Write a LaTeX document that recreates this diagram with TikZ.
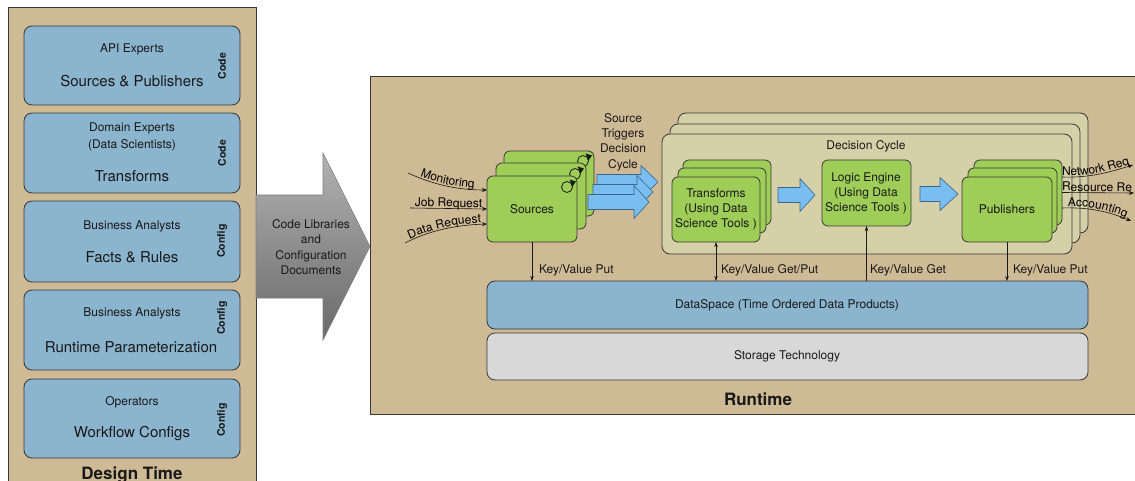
\documentclass[tikz,border=0pt]{standalone}
\usepackage{fontspec}
\setmainfont{TeX Gyre Heros}
\usetikzlibrary{arrows.meta,fit,decorations.text}

\definecolor{paneltan}{RGB}{206,186,148}
\definecolor{panelblue}{RGB}{139,180,206}
\definecolor{leafgreen}{RGB}{158,205,88}
\definecolor{cyclekhaki}{RGB}{214,208,168}
\definecolor{skyarrow}{RGB}{120,190,240}
\definecolor{skyedge}{RGB}{60,100,140}
\definecolor{storagegray}{RGB}{216,216,216}
\definecolor{edgegray}{RGB}{55,55,55}
\definecolor{inkdark}{RGB}{25,25,25}
\definecolor{arrowtop}{RGB}{178,178,178}
\definecolor{arrowbot}{RGB}{105,105,105}

\newcommand\fs[1]{\fontsize{#1}{#1}\selectfont}
\newcommand\blockarrow[4]{%
  \draw[barrow] (#1,#4-7.5) -- (#2,#4-7.5) -- (#2,#4-16.5) -- (#3,#4) -- (#2,#4+16.5) -- (#2,#4+7.5) -- (#1,#4+7.5) -- cycle;}
\newcommand\cycleicon[1]{%
  \draw[cycring] (#1) circle[radius=5.5];
  \fill[inkdark] ([shift={(2.5,-7.5)}]#1) -- ([shift={(9,-5.5)}]#1) -- ([shift={(5.5,-0.5)}]#1) -- cycle;}

\tikzset{
  panel/.style={fill=paneltan, draw=edgegray, line width=0.8pt},
  lbox/.style={draw=edgegray, fill=panelblue, rounded corners=8pt, line width=0.8pt},
  cbox/.style={draw=edgegray, fill=cyclekhaki, rounded corners=8pt, line width=0.8pt},
  gbox/.style={draw=edgegray, fill=leafgreen, rounded corners=6pt, line width=0.8pt},
  barrow/.style={draw=skyedge, fill=skyarrow, line width=0.6pt, line join=miter},
  inl/.style={draw=inkdark, line width=0.6pt, -{Stealth[length=5pt,width=4pt]}},
  kv/.style={draw=inkdark, line width=0.6pt, -{Stealth[length=5pt,width=3.5pt]}},
  kvb/.style={draw=inkdark, line width=0.6pt, {Stealth[length=5pt,width=3.5pt]}-{Stealth[length=5pt,width=3.5pt]}},
  cycring/.style={draw=inkdark, line width=0.8pt},
  small/.style={font=\fs{12}},
  big/.style={font=\fs{15}},
  tag/.style={font=\fs{10.5}\bfseries, rotate=90},
  ptext/.style 2 args={postaction={decorate, decoration={text along path, text align=#1, raise=1.5pt, text={|\fs{12}|#2}}}}
}

\begin{document}
\begin{tikzpicture}[x=1pt,y=-1pt, every node/.style={text=inkdark, inner sep=0pt, outer sep=0pt}]
\useasboundingbox (0,0) rectangle (1135,481);

% ---------------- Design time panel ----------------
\node[panel, fit={(8,7) (256,500)}] (design) {};
\node[lbox, fit={(24,26) (240,105)}] (api) {};
\node[lbox, fit={(24,113) (240,193)}] (dom) {};
\node[lbox, fit={(24,201) (240,282)}] (fact) {};
\node[lbox, fit={(24,290) (240,370)}] (param) {};
\node[lbox, fit={(24,379) (240,458)}] (ops) {};

\node[small] (apiR) at (132,49) {API Experts};
\node[big] (apiT) at (132,81) {Sources \& Publishers};
\node[tag] (apiK) at (222,66) {Code};

\node[small] (domR) at (132,128) {Domain Experts};
\node[small] (domR2) at (132,145) {(Data Scientists)};
\node[big] (domT) at (132,176) {Transforms};
\node[tag] (domK) at (222,153) {Code};

\node[small] (factR) at (132,226) {Business Analysts};
\node[big] (factT) at (132,257) {Facts \& Rules};
\node[tag] (factK) at (222,241) {Config};

\node[small] (paramR) at (132,313) {Business Analysts};
\node[big] (paramT) at (131,347) {Runtime Parameterization};
\node[tag] (paramK) at (222,318) {Config};

\node[small] (opsR) at (132,402) {Operators};
\node[big] (opsT) at (132,434) {Workflow Configs};
\node[tag] (opsK) at (222,420) {Config};

\node[font=\fs{17}\bfseries, anchor=base] (dtime) at (132,479) {Design Time};

% ---------------- big gray arrow ----------------
\shadedraw[top color=arrowtop, bottom color=arrowbot, draw=gray, line width=0.6pt]
  (256,195) -- (323,195) -- (323,153) -- (370,246.5) -- (323,340) -- (323,298) -- (256,298) -- cycle;
\node[font=\fontsize{12}{15.5}\selectfont, align=center] (libs) at (311,247) {Code Libraries\\and\\Configuration\\Documents};

% ---------------- Runtime panel ----------------
\node[panel, fit={(370,76) (1150,414)}] (runtime) {};
\node[font=\fs{17}\bfseries] (rtlabel) at (758,399) {Runtime};

\node[lbox, fit={(487,281) (1088,329)}] (ds) {};
\node[small] (dstext) at (787,305) {DataSpace (Time Ordered Data Products)};
\node[lbox, fill=storagegray, fit={(487,333) (1088,380)}] (st) {};
\node[small] (sttext) at (787,356) {Storage Technology};

% decision cycle stack
\node[cbox, fit={(678,113) (1088,233)}] (dc3) {};
\node[cbox, fit={(670,124) (1080,243)}] (dc2) {};
\node[cbox, fit={(662,134) (1072,254)}] (dc1) {};
\node[small] (dclabel) at (866,146) {Decision Cycle};

% transforms
\node[gbox, fit={(683,160) (771,225)}] (tr3) {};
\node[gbox, fit={(678,168) (766,233)}] (tr2) {};
\node[gbox, fit={(672,177) (760,242)}] (tr1) {};
\node[font=\fontsize{12}{15}\selectfont, align=center] (trtext) at (716,209) {Transforms\\(Using Data\\Science Tools )};

% logic engine
\node[gbox, fit={(822,160) (911,226)}] (le) {};
\node[font=\fontsize{12}{15}\selectfont, align=center] (letext) at (866,193) {Logic Engine\\(Using Data\\Science Tools )};

% publishers
\node[gbox, fit={(974,160) (1062,225)}] (pub3) {};
\node[gbox, fit={(968,168) (1057,233)}] (pub2) {};
\node[gbox, fit={(962,177) (1052,242)}] (pub1) {};
\node[small] (pubtext) at (1007,209) {Publishers};

% sources
\node[gbox, fit={(504,151) (594,216)}] (src3) {};
\coordinate (ic3) at ([xshift=-11pt,yshift=-10pt]src3.north east);
\cycleicon{ic3}
\node[gbox, fit={(496,163) (586,229)}] (src2) {};
\coordinate (ic2) at ([xshift=-11pt,yshift=-11pt]src2.north east);
\cycleicon{ic2}
\node[gbox, fit={(487,176) (577,242)}] (src1) {};
\coordinate (ic1) at ([xshift=-10pt,yshift=-11pt]src1.north east);
\cycleicon{ic1}
\node[small] (srctext) at (532,209) {Sources};

% source trigger arrows
\blockarrow{597}{641}{658}{182}
\blockarrow{593}{637}{653}{192}
\blockarrow{588}{634}{649}{202}
\node[font=\fontsize{12}{15.3}\selectfont, align=center] (trig) at (623,142) {Source\\Triggers\\Decision\\Cycle};

% cycle arrows
\blockarrow{778}{800}{815}{195}
\blockarrow{920}{940}{958}{194}

% inputs
\coordinate (monS) at (408,173);
\coordinate (jobS) at (410,208);
\coordinate (datS) at (405,243);
\draw[inl, ptext={center}{Monitoring}] (monS) .. controls (432,184) and (456,190) .. ([yshift=19pt]src1.west);
\draw[inl, ptext={center}{Job Request}] (jobS) -- (src1.west);
\draw[inl, ptext={center}{Data Request}] (datS) .. controls (428,231) and (455,225) .. ([yshift=-15pt]src1.west);

% outputs
\coordinate (netE) at (1133,165);
\coordinate (resE) at (1134,193);
\coordinate (accE) at (1131,221);
\draw[inl, ptext={left}{Network Req}] ([yshift=15.5pt]pub3.east) .. controls (1090,178) and (1110,172) .. (netE);
\draw[inl, ptext={left}{Resource Req}] (pub3.east) -- (resE);
\draw[inl, ptext={center}{Accounting}] ([yshift=-15.5pt]pub3.east) .. controls (1090,207) and (1110,212) .. (accE);

% key/value connectors
\draw[kv] (src1.south) -- (src1.south |- ds.north);
\node[small, anchor=west] (kv1) at (539,270) {Key/Value Put};
\draw[kvb] (tr1.south) -- (tr1.south |- ds.north);
\node[small, anchor=west] (kv2) at (721,270) {Key/Value Get/Put};
\draw[kv] (le.south |- ds.north) -- (le.south);
\node[small, anchor=west] (kv3) at (870,270) {Key/Value Get};
\draw[kv] (pub1.south) -- (pub1.south |- ds.north);
\node[small, anchor=west] (kv4) at (1013,270) {Key/Value Put};
\end{tikzpicture}
\end{document}
